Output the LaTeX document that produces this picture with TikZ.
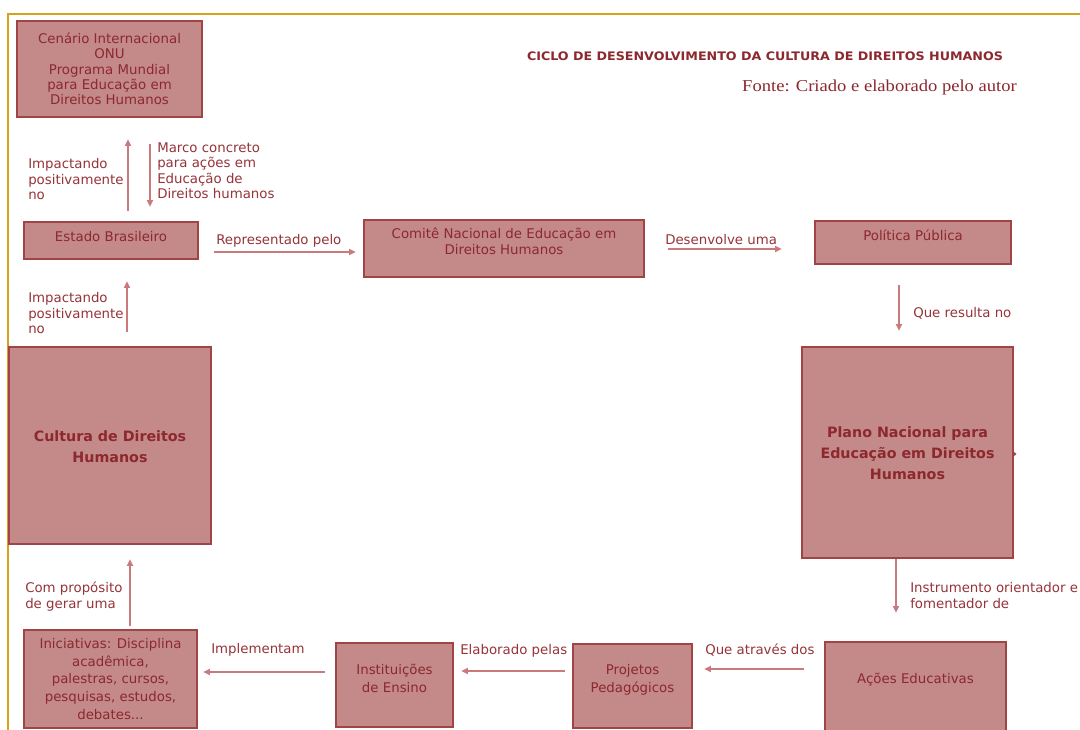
\documentclass[tikz,border=0pt]{standalone}
\usepackage{fontspec}
\setmainfont{DejaVu Sans}
\newfontfamily\fontefont{Liberation Serif}
\usetikzlibrary{arrows.meta,calc}
\definecolor{boxfill}{RGB}{196,138,138}
\definecolor{boxline}{RGB}{160,68,70}
\definecolor{txt}{RGB}{140,40,46}
\definecolor{lbltxt}{RGB}{150,52,58}
\definecolor{arrcol}{RGB}{202,122,122}
\definecolor{gold}{RGB}{214,162,30}
\newcommand\mkbox[8][]{%
  \node[box, minimum width={(#5-#3)*0.75pt}, minimum height={(#6-#4)*0.75pt}] (#2) at ({(#3+#5)/2},{(#4+#6)/2}) {};
  \node[boxtext,#1] (#2-t) at ($(#2.center)+(0,#7)$) {#8};}
\tikzset{
  box/.style={draw=boxline, fill=boxfill, line width=1.9pt, rectangle, inner sep=0pt},
  boxtext/.style={text=txt, font=\fontsize{10pt}{12pt}\selectfont, align=center, inner sep=0pt},
  bigtext/.style={text=txt, font=\bfseries\fontsize{10.7pt}{15.75pt}\selectfont},
  lbl/.style={text=lbltxt, font=\fontsize{10pt}{11.7pt}\selectfont, align=left, anchor=base west, inner sep=0pt},
  arr/.style={draw=arrcol, line width=1.1pt, -{Triangle[length=5pt,width=4.6pt]}},
}
\begin{document}
\begin{tikzpicture}[x=0.75pt,y=-0.75pt]
\useasboundingbox (0,0) rectangle (1080,730);
\fill[white] (0,0) rectangle (1080,730);
% frame
\draw[gold, line width=1.6pt] (8,745) -- (8,14) -- (1095,14);
% title
\node[anchor=base, text=txt, inner sep=0pt] (title) at (765,61)
  {\resizebox{357pt}{\height}{\bfseries\fontsize{8.8pt}{10pt}\selectfont CICLO DE DESENVOLVIMENTO DA CULTURA DE DIREITOS HUMANOS}};
\node[anchor=base, text=txt, inner sep=0pt] (fonte) at (879.5,92)
  {\resizebox{206pt}{\height}{\fontefont\fontsize{12.5pt}{14pt}\selectfont Fonte: Criado e elaborado pelo autor}};
% boxes
\mkbox[font=\fontsize{10pt}{11.5pt}\selectfont]{cenario}{17}{21}{202}{117}{0}{Cenário Internacional\\ONU\\Programa Mundial\\para Educação em\\Direitos Humanos}
\mkbox{estado}{24}{222}{198}{259}{-4}{Estado Brasileiro}
\mkbox{comite}{364}{220}{644}{277}{-7}{Comitê Nacional de Educação em\\Direitos Humanos}
\mkbox{politica}{815}{221}{1011}{264}{-7}{Política Pública}
\mkbox[bigtext]{plano}{802}{347}{1013}{558}{1}{Plano Nacional para\\Educação em Direitos\\Humanos}
\mkbox{acoes}{825}{642}{1006}{740}{-11.5}{Ações Educativas}
\mkbox[font=\fontsize{10pt}{13.5pt}\selectfont]{projetos}{573}{644}{692}{728}{-6.5}{Projetos\\Pedagógicos}
\mkbox[font=\fontsize{10pt}{13.5pt}\selectfont]{inst}{336}{643}{453}{727}{-6.5}{Instituições\\de Ensino}
\mkbox[font=\fontsize{10pt}{13.3pt}\selectfont]{inic}{24}{630}{197}{728}{0}{Iniciativas: Disciplina\\acadêmica,\\palestras, cursos,\\pesquisas, estudos,\\debates...}
\mkbox[bigtext]{cultura}{9}{347}{211}{544}{1.5}{Cultura de Direitos\\Humanos}
% small mark at right of Plano
\fill[boxline] (1016.5,454) -- (1013.5,451.5) -- (1013.5,456.5) -- cycle;
% connectors
\draw[arr] ($(estado.north)+(17,-10)$) -- ($(cenario.south)+(18.5,21)$);
\draw[arr] ($(cenario.south)+(40.5,26)$) -- ($(estado.north)+(39,-14)$);
\draw[arr] ($(estado.east)+(15,11.5)$) -- ($(comite.west)+(-7,3.5)$);
\draw[arr] ($(comite.east)+(23,0.5)$) -- ($(politica.west)+(-32,6.5)$);
\draw[arr] ($(politica.south)+(-14,20)$) -- ($(plano.north)+(-8.5,-15)$);
\draw[arr] ($(plano.south)+(-11.5,0)$) -- ($(acoes.north)+(-19.5,-28)$);
\draw[arr] ($(acoes.west)+(-20,-22)$) -- ($(projetos.east)+(11,-17)$);
\draw[arr] ($(projetos.west)+(-7,-15)$) -- ($(inst.east)+(7,-14)$);
\draw[arr] ($(inst.west)+(-10,-13)$) -- ($(inic.east)+(5,-7)$);
\draw[arr] ($(inic.north)+(19.5,-3)$) -- ($(cultura.south)+(20,14)$);
\draw[arr] ($(cultura.north)+(17,-14)$) -- ($(estado.south)+(16,21)$);
% labels (anchor at baseline of last line)
\node[lbl] (l1) at (28,200) {Impactando\\positivamente\\no};
\node[lbl] (l2) at (157,199) {Marco concreto\\para ações em\\Educação de\\Direitos humanos};
\node[lbl] (l3) at (216,245) {Representado pelo};
\node[lbl] (l4) at (665,245) {Desenvolve uma};
\node[lbl] (l5) at (913,318) {Que resulta no};
\node[lbl] (l6) at (910,608) {Instrumento orientador e\\fomentador de};
\node[lbl] (l7) at (705,654) {Que através dos};
\node[lbl] (l8) at (460,654) {Elaborado pelas};
\node[lbl] (l9) at (211,653) {Implementam};
\node[lbl] (l10) at (25,608) {Com propósito\\de gerar uma};
\node[lbl] (l11) at (28,334) {Impactando\\positivamente\\no};
\end{tikzpicture}
\end{document}
